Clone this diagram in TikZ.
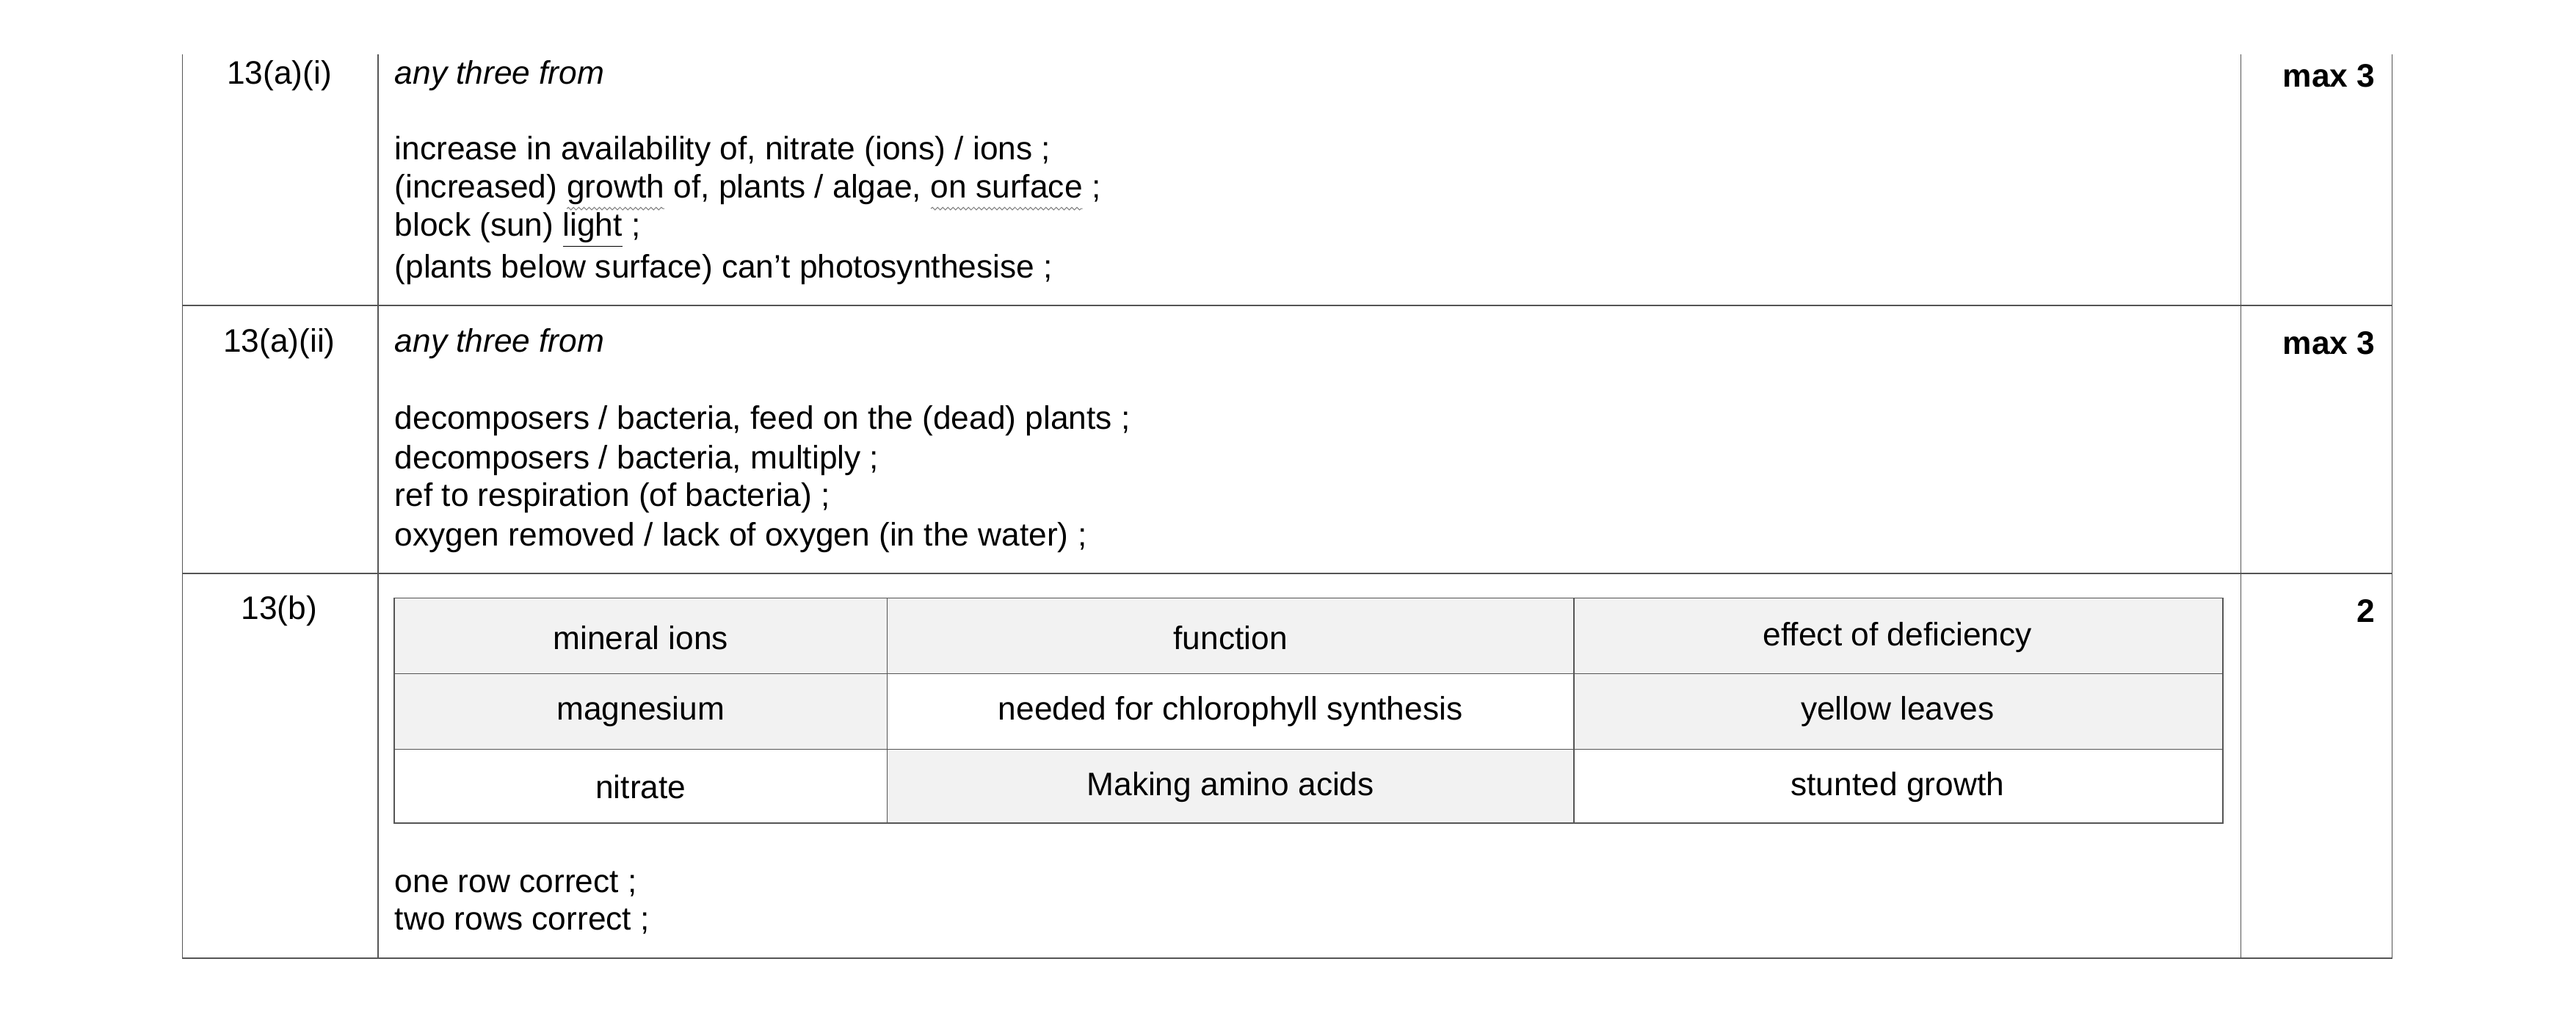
\documentclass[tikz,border=0pt]{standalone}
\usepackage{fontspec}
\setmainfont{Liberation Sans}
\usepackage{xcolor}
\definecolor{ruleGray}{HTML}{555555}
\definecolor{cellBg}{HTML}{F2F2F2}
\usetikzlibrary{positioning,decorations.pathmorphing}
\tikzset{%
  txt/.style={%
    anchor=west,
    inner sep=0pt,
    font=\fontsize{12.6}{15}\selectfont
  },
  qnum/.style={%
    inner sep=0pt,
    font=\fontsize{12.6}{15}\selectfont
  },
  markCell/.style={%
    anchor=east,
    inner sep=0pt,
    font=\fontsize{12.6}{15}\selectfont\bfseries
  },
  cell/.style={%
    inner sep=0pt,
    font=\fontsize{12.6}{15}\selectfont
  },
  gridLine/.style={%
    draw=ruleGray,
    line width=0.5pt
  }
}
\newcommand{\wavy}[1]{\tikz[baseline=(w.base)]{\node[inner sep=0pt,outer sep=0pt] (w) {\strut #1};
  \draw[gray,line width=0.3pt,decorate,decoration={snake,amplitude=0.5pt,segment length=2pt}] ([yshift=0.4pt]w.south west) -- ([yshift=0.4pt]w.south east);}}
\begin{document}
\begin{tikzpicture}[x=0.2238mm,y=-0.2238mm]
  \useasboundingbox (0,0) rectangle (1568,617);
  % outer frame
  \draw[gridLine] (111,33) -- (111,583) -- (1456,583) -- (1456,33);
  \draw[gridLine] (230,33) -- (230,583);
  \draw[gridLine] (1364,33) -- (1364,583);
  \draw[gridLine] (111,186) -- (1456,186);
  \draw[gridLine] (111,349) -- (1456,349);

  % 13(a)(i)
  \node[qnum] (qa) at (170,46) {13(a)(i)};
  \node[markCell] (ma) at (1446,46) {max 3};
  \node[txt] (a0) at (240,46) {\itshape any three from};
  \node[txt] (a1) at (240,92) {increase in availability of, nitrate (ions) / ions ;};
  \node[txt] (a2) at (240,116) {(increased) \wavy{growth} of, plants / algae, \wavy{on surface} ;};
  \node[txt] (a3) at (240,140) {block (sun) \underline{light} ;};
  \node[txt] (a4) at (240,164) {(plants below surface) can’t photosynthesise ;};

  % 13(a)(ii)
  \node[qnum] (qb) at (170,209) {13(a)(ii)};
  \node[markCell] (mb) at (1446,209) {max 3};
  \node[txt] (b0) at (240,209) {\itshape any three from};
  \node[txt] (b1) at (240,256) {decomposers / bacteria, feed on the (dead) plants ;};
  \node[txt] (b2) at (240,280) {decomposers / bacteria, multiply ;};
  \node[txt] (b3) at (240,303) {ref to respiration (of bacteria) ;};
  \node[txt] (b4) at (240,327) {oxygen removed / lack of oxygen (in the water) ;};

  % 13(b)
  \node[qnum] (qc) at (170,372) {13(b)};
  \node[markCell] (mc) at (1446,372) {2};
  \fill[cellBg] (240,364) rectangle (1353,410);
  \fill[cellBg] (240,410) rectangle (540,456);
  \fill[cellBg] (958,410) rectangle (1353,456);
  \fill[cellBg] (540,456) rectangle (958,501);
  \draw[gridLine] (240,364) rectangle (1353,501);
  \draw[gridLine] (240,410) -- (1353,410);
  \draw[gridLine] (240,456) -- (1353,456);
  \draw[gridLine] (540,364) -- (540,501);
  \draw[gridLine] (958,364) -- (958,501);
  \node[cell] (h1) at (390,388) {mineral ions};
  \node[cell] (h2) at (749,388) {function};
  \node[cell] (h3) at (1155,388) {effect of deficiency};
  \node[cell] (r11) at (390,433) {magnesium};
  \node[cell] (r12) at (749,433) {needed for chlorophyll synthesis};
  \node[cell] (r13) at (1155,433) {yellow leaves};
  \node[cell] (r21) at (390,479) {nitrate};
  \node[cell] (r22) at (749,479) {Making amino acids};
  \node[cell] (r23) at (1155,479) {stunted growth};
  \node[txt] (c1) at (240,538) {one row correct ;};
  \node[txt] (c2) at (240,561) {two rows correct ;};
\end{tikzpicture}
\end{document}
